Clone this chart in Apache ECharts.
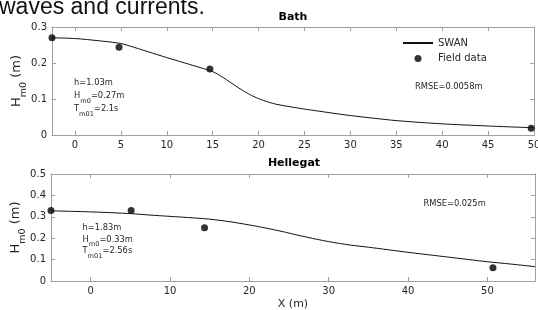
<!DOCTYPE html>
<html><head><meta charset="utf-8">
<script src="https://cdn.jsdelivr.net/npm/echarts@6/dist/echarts.min.js"></script>
<style>html,body{margin:0;padding:0;background:#fff}#c{width:538px;height:310px}</style>
</head><body><div id="c"></div>
<script>
// ---- Data ----
const bathSwanX = [-2.5, 0, 2.5, 5, 8, 10, 12.5, 15, 16, 17, 18, 19, 20, 21, 22, 24, 25, 28, 30, 35, 40, 45, 50];
const bathSwanH = [0.270, 0.268, 0.262, 0.254, 0.231, 0.215, 0.196, 0.176, 0.162, 0.145, 0.128, 0.113, 0.101, 0.092, 0.085, 0.076, 0.072, 0.061, 0.054, 0.040, 0.031, 0.025, 0.020];
const bathFieldX = [-2.5, 4.8, 14.7, 49.7];
const bathFieldH = [0.270, 0.244, 0.183, 0.019];

const hellSwanX = [-5, 0, 5, 7.5, 10, 14.4, 17, 20, 22, 24.3, 26, 28.5, 30, 32.7, 35, 40, 45, 50, 53, 56];
const hellSwanH = [0.328, 0.323, 0.315, 0.308, 0.302, 0.291, 0.280, 0.262, 0.248, 0.230, 0.215, 0.195, 0.184, 0.168, 0.158, 0.134, 0.112, 0.090, 0.079, 0.067];
const hellFieldX = [-5, 5.1, 14.35, 50.7];
const hellFieldH = [0.330, 0.330, 0.249, 0.062];

const bathXTicks = [0, 5, 10, 15, 20, 25, 30, 35, 40, 45, 50];
const hellXTicks = [0, 10, 20, 30, 40, 50];

const zip = (xs, ys) => xs.map((x, i) => [x, ys[i]]);

const FONT = 'DejaVu Sans';
const TXT = '#262626';
const AX = '#a0a0a0';

function xAx(grid, min, max, ticks, top, extra) {
  return Object.assign({
    type: 'value', gridIndex: grid, min: min, max: max, position: top ? 'top' : 'bottom',
    splitLine: { show: false },
    axisLine: { show: true, onZero: false, lineStyle: { color: AX, width: 1 } },
    axisTick: { show: true, inside: true, length: 4, customValues: ticks, lineStyle: { color: AX } },
    axisLabel: { show: !top, customValues: ticks, color: TXT, fontSize: 10, fontFamily: FONT, margin: 5, hideOverlap: false }
  }, extra || {});
}
function yAx(grid, max, right, extra) {
  return Object.assign({
    type: 'value', gridIndex: grid, min: 0, max: max, interval: 0.1, position: right ? 'right' : 'left',
    splitLine: { show: false },
    axisLine: { show: true, onZero: false, lineStyle: { color: AX, width: 1 } },
    axisTick: { show: true, inside: true, length: 4, lineStyle: { color: AX } },
    axisLabel: { show: !right, color: TXT, fontSize: 10, fontFamily: FONT, margin: 5 }
  }, extra || {});
}
const yName = {
  name: '{a|H}{s|m0}{a| (m)}', nameLocation: 'middle', nameRotate: 90, nameGap: 23, nameMoveOverlap: false,
  nameTextStyle: { rich: {
    a: { fontSize: 13, fontFamily: FONT, color: TXT, lineHeight: 24, verticalAlign: 'middle' },
    s: { fontSize: 9.5, fontFamily: FONT, color: TXT, lineHeight: 10, verticalAlign: 'bottom' }
  } }
};

function subText(x, y, main, sub, rest, fs, shiftL) {
  return { type: 'text', x: x, y: y, style: {
    text: '{a|' + main + '}{s|' + sub + '}{a|' + rest + '}', verticalAlign: 'middle', align: 'left',
    rich: {
      a: { fontSize: fs, fontFamily: FONT, fill: TXT, lineHeight: shiftL[0], verticalAlign: 'middle' },
      s: { fontSize: fs * 0.8, fontFamily: FONT, fill: TXT, lineHeight: shiftL[1], verticalAlign: 'bottom' }
    } } };
}
function plainText(x, y, t, fs, extra) {
  return { type: 'text', x: x, y: y, style: Object.assign({ text: t, fontSize: fs, fontFamily: FONT, fill: TXT, verticalAlign: 'middle', align: 'left' }, extra || {}) };
}

const chart = echarts.init(document.getElementById('c'), null, { renderer: 'canvas' });
chart.setOption({
  animation: false,
  backgroundColor: '#fff',
  grid: [
    { left: 52, right: 4, top: 27, height: 108, containLabel: false, outerBoundsMode: 'none' },
    { left: 51, right: 3, top: 174, height: 107, containLabel: false, outerBoundsMode: 'none' }
  ],
  xAxis: [
    xAx(0, -2.5, 50, bathXTicks, false),
    xAx(0, -2.5, 50, bathXTicks, true),
    xAx(1, -5, 56, hellXTicks, false, { name: 'X (m)', nameLocation: 'middle', nameGap: 18, nameMoveOverlap: false, nameTextStyle: { fontSize: 11, fontFamily: FONT, color: TXT } }),
    xAx(1, -5, 56, hellXTicks, true)
  ],
  yAxis: [
    yAx(0, 0.3, false, yName),
    yAx(0, 0.3, true),
    yAx(1, 0.5, false, yName),
    yAx(1, 0.5, true)
  ],
  legend: {
    data: [
      { name: 'SWAN', itemStyle: { opacity: 0 } },
      { name: 'Field data' }
    ],
    orient: 'vertical', left: 402, top: 38, padding: 0,
    itemWidth: 30, itemHeight: 7, itemGap: 5.5,
    textStyle: { fontSize: 10, fontFamily: FONT, color: TXT }
  },
  series: [
    { name: 'SWAN', type: 'line', xAxisIndex: 0, yAxisIndex: 0, data: zip(bathSwanX, bathSwanH), symbol: 'none', smooth: 0.25, lineStyle: { color: '#111', width: 1 }, itemStyle: { color: '#111' } },
    { name: 'Field data', type: 'scatter', xAxisIndex: 0, yAxisIndex: 0, data: zip(bathFieldX, bathFieldH), symbol: 'circle', symbolSize: 7, clip: false, itemStyle: { color: '#000' } },
    { name: 'SWAN', type: 'line', xAxisIndex: 2, yAxisIndex: 2, data: zip(hellSwanX, hellSwanH), symbol: 'none', smooth: 0.25, lineStyle: { color: '#111', width: 1 }, itemStyle: { color: '#111' } },
    { name: 'Field data', type: 'scatter', xAxisIndex: 2, yAxisIndex: 2, data: zip(hellFieldX, hellFieldH), symbol: 'circle', symbolSize: 7, clip: false, itemStyle: { color: '#000' } }
  ],
  graphic: [
    { type: 'text', x: -1, y: 8, style: { text: 'waves and currents.', fontSize: 23, fontFamily: 'Liberation Sans', fill: '#111', verticalAlign: 'middle', align: 'left' } },
    plainText(293, 17, 'Bath', 11, { fontWeight: 'bold', align: 'center', fill: '#000' }),
    plainText(294, 163, 'Hellegat', 11, { fontWeight: 'bold', align: 'center', fill: '#000' }),
    plainText(74, 83, 'h=1.03m', 8.3),
    subText(74, 96, 'H', 'm0', '=0.27m', 8.3, [17, 8]),
    subText(74, 109, 'T', 'm01', '=2.1s', 8.3, [17, 8]),
    plainText(82.5, 228, 'h=1.83m', 8.3),
    subText(82.5, 239.5, 'H', 'm0', '=0.33m', 8.3, [17, 8]),
    subText(82.5, 251, 'T', 'm01', '=2.56s', 8.3, [17, 8]),
    plainText(415, 87, 'RMSE=0.0058m', 8.3),
    plainText(423.5, 204, 'RMSE=0.025m', 8.3)
  ]
});
</script>
</body></html>
